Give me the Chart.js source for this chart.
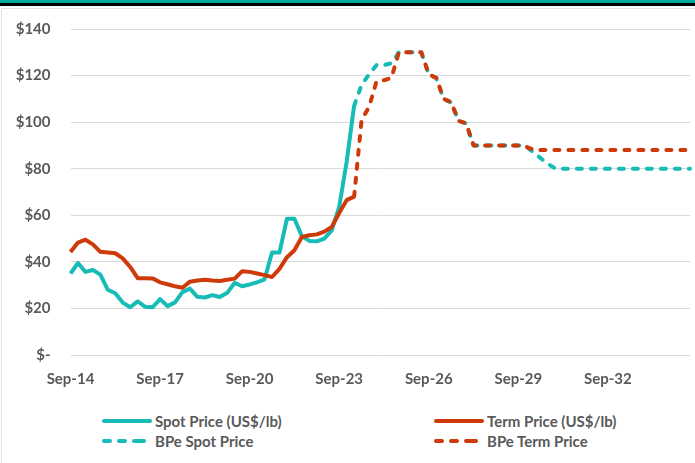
<!DOCTYPE html>
<html>
<head>
<meta charset="utf-8">
<script src="https://cdn.jsdelivr.net/npm/chart.js@4.4.1/dist/chart.umd.min.js"></script>
<style>
  body { margin: 0; background: #fff; width: 695px; height: 463px; overflow: hidden; position: relative; font-family: Lato, "Open Sans", sans-serif; }
  .band { position: absolute; left: 0; top: 0; width: 695px; height: 3px; background: #00a79d; }
  .rule { position: absolute; left: 0; top: 3px; width: 695px; height: 2.5px; background: #000; }
  .box { position: absolute; left: 1px; top: 8px; width: 694px; height: 455px; border-top: 1px solid #e3e3e3; border-left: 1px solid #e3e3e3; }
  #myChart { position: absolute; left: 0; top: 0; }
  .leg { position: absolute; font-weight: 700; font-size: 15px; color: #595959; line-height: 16px; white-space: nowrap; }
  .leg svg { position: absolute; left: 0; top: 0; }
</style>
</head>
<body>
<div class="band"></div>
<div class="rule"></div>
<div class="box"></div>
<canvas id="myChart" width="695" height="400"></canvas>

<div class="leg" style="left:100px;top:413px"><svg width="56" height="16"><line x1="4" y1="8" x2="50" y2="8" stroke="#17bcb6" stroke-width="4" stroke-linecap="round"/></svg><span style="margin-left:55px">Spot Price (US$/lb)</span></div>
<div class="leg" style="left:432px;top:413px"><svg width="56" height="16"><line x1="4" y1="8" x2="50" y2="8" stroke="#cf3a0b" stroke-width="4" stroke-linecap="round"/></svg><span style="margin-left:55px">Term Price (US$/lb)</span></div>
<div class="leg" style="left:100px;top:433px"><svg width="56" height="16"><g stroke="#17bcb6" stroke-width="4" stroke-linecap="round"><line x1="4" y1="8" x2="10" y2="8"/><line x1="19" y1="8" x2="25" y2="8"/><line x1="34" y1="8" x2="44" y2="8"/></g></svg><span style="margin-left:55px">BPe Spot Price</span></div>
<div class="leg" style="left:432px;top:433px"><svg width="56" height="16"><g stroke="#cf3a0b" stroke-width="4" stroke-linecap="round"><line x1="4" y1="8" x2="10" y2="8"/><line x1="19" y1="8" x2="25" y2="8"/><line x1="34" y1="8" x2="44" y2="8"/></g></svg><span style="margin-left:55px">BPe Term Price</span></div>

<script>
// quarterly, Sep-14 .. Jun-35
const months = ['Sep', 'Dec', 'Mar', 'Jun']
const quarters = []
for (let i = 0; i < 84; i++) {
  const yr = 14 + Math.floor((i + 2) / 4)
  quarters.push(months[i % 4] + '-' + String(yr).padStart(2, '0'))
}
const labelEvery = 12

// actuals, Sep-14 .. Mar-24
const spotPrice = [35, 39.5, 35.7, 36.5, 34.5, 28, 26.5, 22.5, 20.5, 23,
  20.7, 20.5, 24, 21, 22.6, 27, 28.5, 25, 24.7, 25.7,
  24.9, 26.7, 31, 29.5, 30.3, 31.2, 32.5, 44, 44, 58.5,
  58.5, 51, 49, 48.8, 50, 53.5, 63.6, 83, 107]
const termPrice = [44.2, 48.3, 49.5, 47.5, 44.3, 44, 43.7, 41.5, 37.8, 33,
  33, 32.9, 31.2, 30.4, 29.5, 28.9, 31.5, 32, 32.3, 32,
  31.8, 32.3, 32.8, 36, 35.7, 35, 34.3, 33.5, 37, 42,
  45, 50.7, 51.4, 51.8, 53, 55, 61, 66.5, 68]

// forecasts, Mar-24 .. Jun-35
const forecastStart = 38
const bpeSpot = [107, 116, 120.5, 124.5, 124.5, 125.3, 130, 130, 130, 130,
  120.5, 119, 110, 108.5, 100.5, 99.5, 90, 90, 90, 90,
  90, 90, 90, 89.6, 87.1, 84.5, 82, 80, 80, 80,
  80, 80, 80, 80, 80, 80, 80, 80, 80, 80,
  80, 80, 80, 80, 80, 80]
const bpeTerm = [68, 101, 106.5, 117.5, 118, 119, 130, 130, 130, 130,
  120.5, 119, 110, 108.5, 100.5, 99.5, 90, 90, 90, 90,
  90, 90, 90, 89.5, 88.2, 88, 88, 88, 88, 88,
  88, 88, 88, 88, 88, 88, 88, 88, 88, 88,
  88, 88, 88, 88, 88, 88]

const yTicks = [0, 20, 40, 60, 80, 100, 120, 140]

const teal = '#17bcb6'
const red = '#cf3a0b'
const grey = '#595959'

const pad = (arr, start) => quarters.map((q, i) => (i >= start && i - start < arr.length) ? arr[i - start] : null)

const lineStyle = (color, dashed) => ({
  borderColor: color,
  backgroundColor: color,
  borderWidth: 4,
  borderDash: dashed ? [5, 9] : [],
  borderCapStyle: dashed ? 'round' : 'butt',
  borderJoinStyle: 'round',
  pointRadius: 0,
  tension: 0,
  fill: false,
  spanGaps: false
})

const canvas = document.getElementById('myChart')
const myChart = new Chart(canvas, {
  type: 'line',
  data: {
    labels: quarters,
    datasets: [
      Object.assign({ label: 'Spot Price (US$/lb)', data: pad(spotPrice, 0), order: 1 }, lineStyle(teal, false)),
      Object.assign({ label: 'Term Price (US$/lb)', data: pad(termPrice, 0), order: 0 }, lineStyle(red, false)),
      Object.assign({ label: 'BPe Spot Price', data: pad(bpeSpot, forecastStart), order: 1 }, lineStyle(teal, true)),
      Object.assign({ label: 'BPe Term Price', data: pad(bpeTerm, forecastStart), order: 0 }, lineStyle(red, true))
    ]
  },
  options: {
    responsive: false,
    animation: false,
    devicePixelRatio: 1,
    layout: { padding: { top: 28, right: 5, left: 0, bottom: 0 } },
    plugins: { legend: { display: false }, tooltip: { enabled: false } },
    scales: {
      x: {
        grid: { display: false, drawTicks: false },
        border: { display: false },
        // keep the label padding from eating into the plot width
        afterFit: (s) => { s.height = 45; s.paddingLeft = 0; s.paddingRight = 0 },
        ticks: {
          autoSkip: false,
          maxRotation: 0,
          padding: 15,
          color: grey,
          font: { family: 'Lato', size: 15, weight: 'bold' },
          callback: function(v, i) { return i % labelEvery === 0 ? this.getLabelForValue(v) : '' }
        }
      },
      y: {
        min: 0,
        max: 140,
        afterFit: (s) => { s.width = 70.5 },
        afterBuildTicks: (s) => { s.ticks = yTicks.map(v => ({ value: v })) },
        grid: { color: '#d9d9d9', lineWidth: 1, drawTicks: false },
        border: { display: false },
        ticks: {
          padding: 20,
          color: grey,
          font: { family: 'Lato', size: 15, weight: 'bold' },
          callback: (v) => v === 0 ? '$-' : '$' + v
        }
      }
    }
  }
})
</script>
</body>
</html>
